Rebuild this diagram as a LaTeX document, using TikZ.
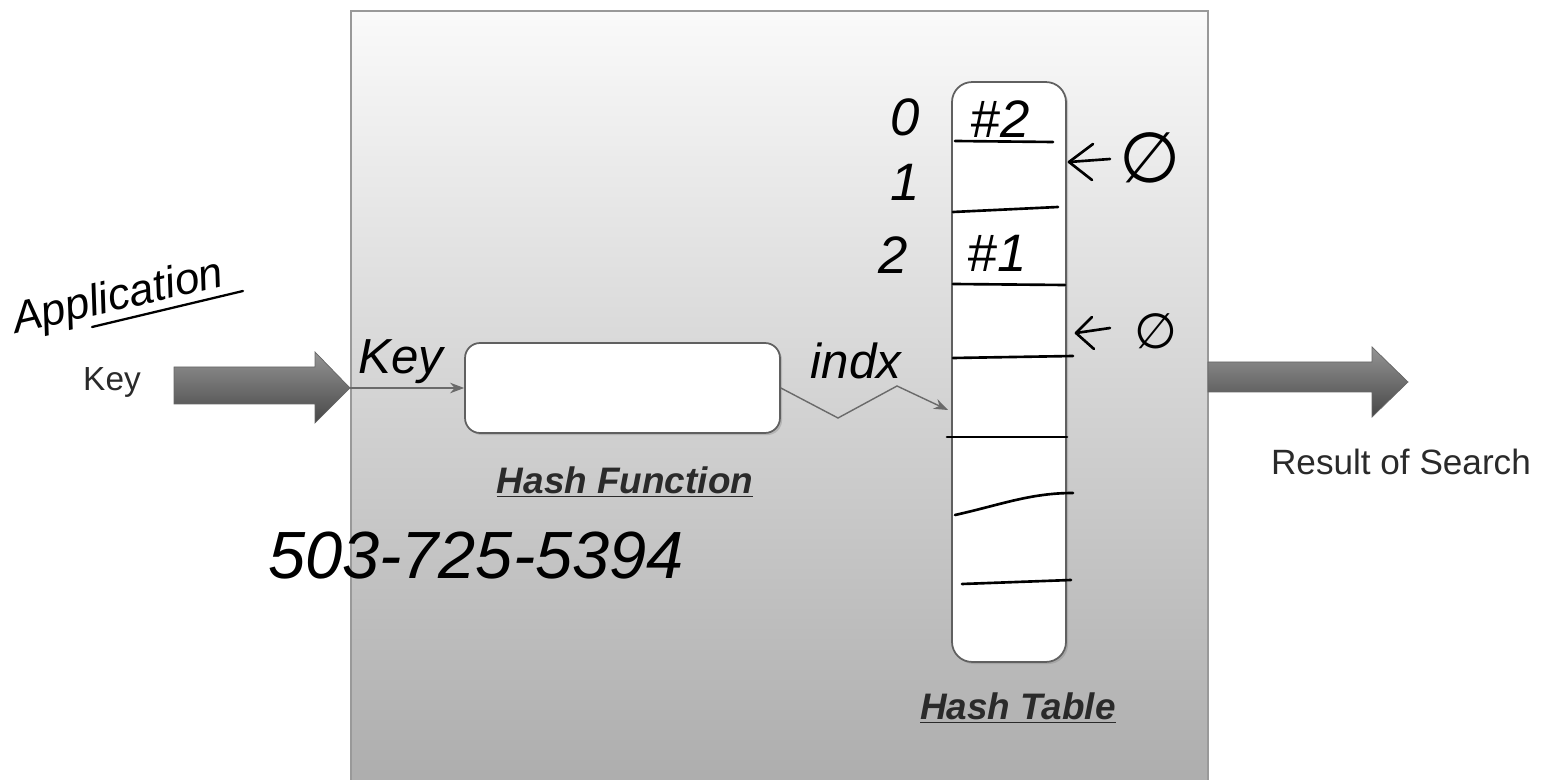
\documentclass[tikz,border=0pt]{standalone}
\usepackage{fontspec}
\setmainfont{Liberation Sans}
\newfontfamily\symfont{DejaVu Sans}
\usetikzlibrary{arrows.meta,shadows}
\definecolor{txtgray}{HTML}{2A2A2A}
\definecolor{linegray}{HTML}{6A6A6A}
\begin{document}
\begin{tikzpicture}[x=0.02cm,y=-0.02cm,
  mainbox/.style={draw=gray!80,line width=1.2pt,top color=gray!4,bottom color=gray!64,inner sep=0pt,anchor=north west},
  whitebox/.style={draw=gray!75!black,line width=1pt,fill=white,inner sep=0pt,drop shadow={opacity=0.35,shadow xshift=1.2pt,shadow yshift=-1.2pt}},
  bigarrow/.style={draw=black!60,line width=0.4pt,top color=black!42,middle color=black!50,bottom color=black!72},
  hand/.style={font=\itshape,text=black,inner sep=0pt},
  ink/.style={line width=1.5pt,line cap=round,line join=round,black},
  thinarrow/.style={draw=linegray,line width=0.8pt,-{Stealth[length=8pt,width=6pt]}},
  title/.style={font=\bfseries\itshape\fontsize{21}{24}\selectfont,text=txtgray},
  plain/.style={text=txtgray}]
\useasboundingbox (0,0) rectangle (1556,780);

% main box
\node[mainbox,minimum width=17.14cm,minimum height=15.4cm] (main) at (350,10) {};

% big arrows
\coordinate (intip) at (350,388);
\path[bigarrow] (174,367) -- (315,367) -- (315,352) -- (intip) -- (315,423) -- (315,404) -- (174,404) -- cycle;
\coordinate (outtip) at (1408,382);
\path[bigarrow] (1208,362) -- (1372,362) -- (1372,347) -- (outtip) -- (1372,417) -- (1372,392) -- (1208,392) -- cycle;

% hash function box and hash table
\node[whitebox,rounded corners=0.3cm,minimum width=6.3cm,minimum height=1.8cm] (hf) at (622.5,388) {};
\node[whitebox,rounded corners=0.4cm,minimum width=2.28cm,minimum height=11.6cm] (ht) at (1009,372) {};

% printed labels
\node[title] (hflabel) at (625,482) {\underline{Hash Function}};
\node[title] (htlabel) at (1018,708) {\underline{Hash Table}};
\node[plain,font=\fontsize{20}{24}\selectfont] (res) at (1401,462) {Result of Search};
\node[plain,font=\fontsize{19}{22}\selectfont] (key) at (112,382) {Key};

% thin connectors
\draw[thinarrow] (intip) -- (hf.west);
\coordinate (ix) at (948,410);
\draw[thinarrow] (hf.east) -- (838,418) -- (897,386) -- (ix);

% handwritten: application
\node[hand,font=\itshape\fontsize{25}{30}\selectfont,rotate=13,anchor=base west] (app) at (16,334) {Application};
\draw[ink,line width=1.3pt] (92,327) -- (243,291);

% handwritten labels
\node[hand,font=\itshape\fontsize{28}{32}\selectfont] (hkey) at (401,362) {Key};
\node[hand,font=\itshape\fontsize{28}{32}\selectfont] (hindx) at (856,361) {indx};
\node[hand,font=\itshape\fontsize{38}{42}\selectfont] (phone) at (476,556) {503-725-5394};

% row indices
\node[hand,font=\itshape\fontsize{30}{34}\selectfont] (i0) at (905,117) {0};
\node[hand,font=\itshape\fontsize{30}{34}\selectfont] (i1) at (905,182) {1};
\node[hand,font=\itshape\fontsize{30}{34}\selectfont] (i2) at (893,255) {2};

% table entries
\node[hand,font=\itshape\fontsize{30}{34}\selectfont] (e0) at (1000,119) {\#2};
\node[hand,font=\itshape\fontsize{30}{34}\selectfont] (e2) at (997,253) {\#1};

% table dividing lines
\draw[ink] (955,141) -- (1053,142);
\draw[ink] (953,212) -- (1058,207);
\draw[ink] (953,284) -- (1065,285);
\draw[ink] (953,358) -- (1073,356);
\draw[ink] (947,437) -- (1067,437);
\draw[ink] (955,515) .. controls (1000,505) and (1030,493) .. (1073,493);
\draw[ink] (962,584) -- (1071,580);

% null markers
\draw[ink] (1110,159) -- (1069,162);
\draw[ink] (1093,144) -- (1069,162) -- (1092,180);
\node[hand,font=\symfont\fontsize{40}{44}\selectfont] (n1) at (1150,158) {∅};
\draw[ink] (1110,328) -- (1076,333);
\draw[ink] (1092,317) -- (1076,333) -- (1094,349);
\node[hand,font=\symfont\fontsize{28}{32}\selectfont] (n2) at (1156,331) {∅};
\end{tikzpicture}
\end{document}
